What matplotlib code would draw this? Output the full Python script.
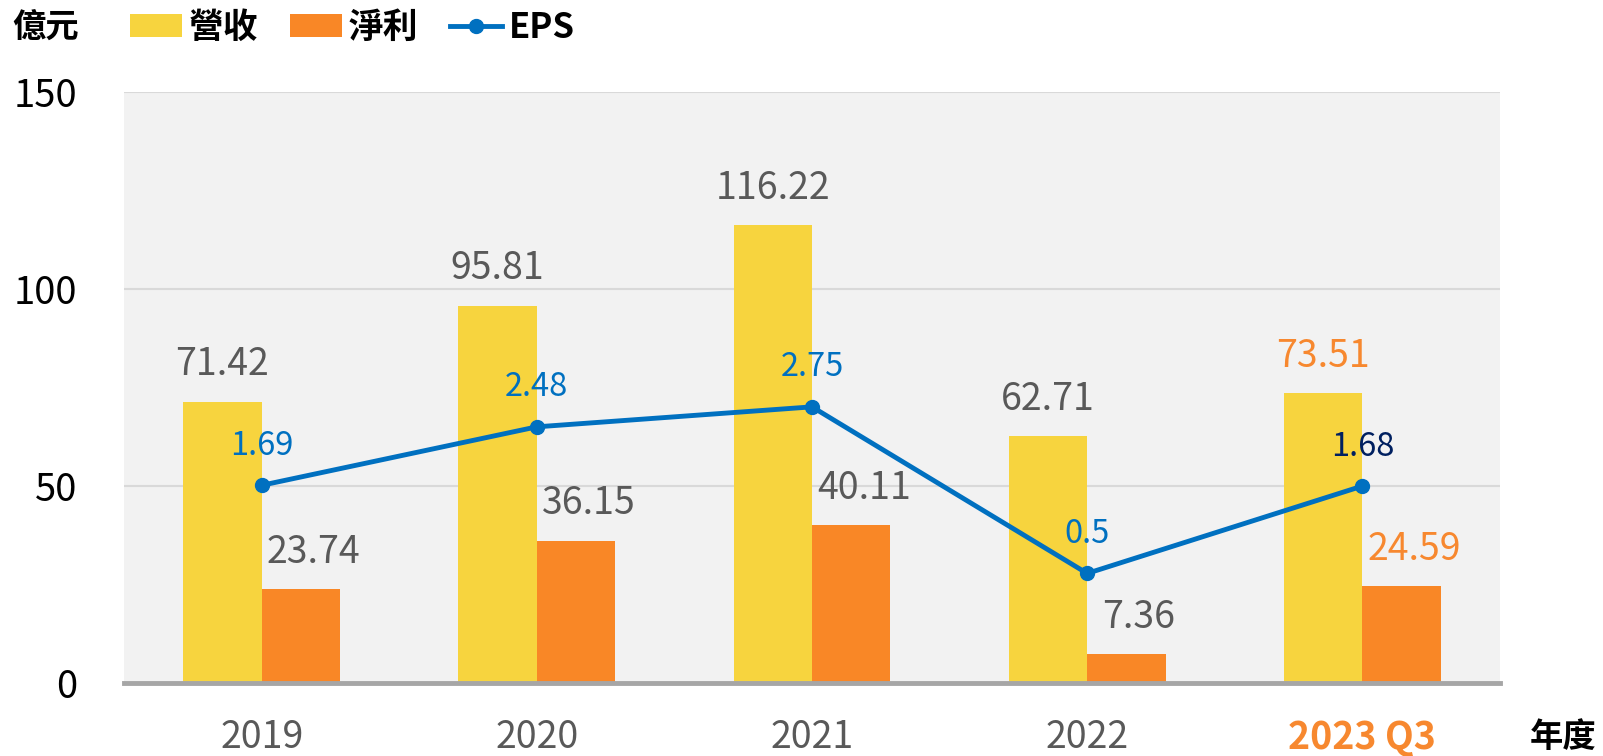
import matplotlib
matplotlib.use("Agg")
import matplotlib.pyplot as plt
import numpy as np

plt.rcParams['font.family'] = ['Noto Sans CJK TC', 'DejaVu Sans']

# 資料
years = ['2019', '2020', '2021', '2022', '2023 Q3']
revenue = [71.42, 95.81, 116.22, 62.71, 73.51]   # 營收 (億元)
profit = [23.74, 36.15, 40.11, 7.36, 24.59]      # 淨利 (億元)
eps = [1.69, 2.48, 2.75, 0.5, 1.68]              # EPS

c_rev = '#F7D43E'
c_pro = '#F98726'
c_eps = '#0070C0'
c_gray = '#595959'
c_hi = '#F7882F'

fig = plt.figure(figsize=(16.03, 7.56), dpi=100)
ax = fig.add_axes([0.0774, 0.0966, 0.8583, 0.7814])
ax.set_facecolor('#F2F2F2')

x = np.arange(len(years))
w = 0.285

b1 = ax.bar(x - w / 2, revenue, w, color=c_rev, label='營收', zorder=2)
b2 = ax.bar(x + w / 2, profit, w, color=c_pro, label='淨利', zorder=2)

ax.set_xlim(-0.5, len(years) - 0.5)
ax.set_ylim(0, 150)
ax.set_yticks([0, 50, 100, 150])
ax.yaxis.grid(True, color='#D9D9D9', linewidth=1.5, zorder=0)
ax.set_axisbelow(True)
for s in ['top', 'right', 'left']:
    ax.spines[s].set_visible(False)
ax.spines['bottom'].set_color('#A6A6A6')
ax.spines['bottom'].set_linewidth(3.5)
ax.spines['bottom'].set_zorder(3)
ax.tick_params(axis='both', length=0)
ax.tick_params(axis='y', labelsize=27.5, pad=34, labelcolor='black')
ax.tick_params(axis='x', labelsize=27, pad=25, labelcolor=c_gray)
ax.set_xticks(x)
ax.set_xticklabels(years)
last = ax.get_xticklabels()[-1]
last.set_color(c_hi)
last.set_fontweight('bold')

# 數值標籤
for i in range(len(years)):
    col = c_hi if i == len(years) - 1 else c_gray
    ax.annotate(f'{revenue[i]:.2f}', (x[i] - w / 2, revenue[i]), xytext=(0, 19),
                textcoords='offset points', ha='center', va='baseline',
                fontsize=27, color=col)
    ax.annotate(f'{profit[i]:.2f}', (x[i] + w / 2, profit[i]), xytext=(9, 19),
                textcoords='offset points', ha='center', va='baseline',
                fontsize=27, color=col)

# EPS 折線 (次座標軸)
ax2 = ax.twinx()
ax2.set_ylim(-0.98, 7.0)
ax2.axis('off')
ln, = ax2.plot(x, eps, color=c_eps, linewidth=3.5, marker='o', markersize=10,
               label='EPS', zorder=4)
for i in range(len(years)):
    col = '#002060' if i == len(years) - 1 else c_eps
    ax2.annotate(f'{eps[i]:g}', (x[i], eps[i]), xytext=(0, 22),
                 textcoords='offset points', ha='center', va='baseline',
                 fontsize=23.5, color=col)

fig.text(12 / 1603, 1 - 28 / 756, '億元', fontsize=24, fontweight='bold',
         ha='left', va='center')
fig.text(1530 / 1603, 1 - 738 / 756, '年度', fontsize=24, fontweight='bold',
         ha='left', va='center')

leg = fig.legend(handles=[b1, b2, ln], loc='center left',
                 bbox_to_anchor=(130 / 1603, 1 - 27 / 756), ncol=3, frameon=False,
                 prop={'size': 25, 'weight': 'bold'}, handlelength=1.5,
                 handleheight=0.66, handletextpad=0.2, columnspacing=0.9,
                 borderpad=0, borderaxespad=0)

fig.savefig('out.png', dpi=100)
